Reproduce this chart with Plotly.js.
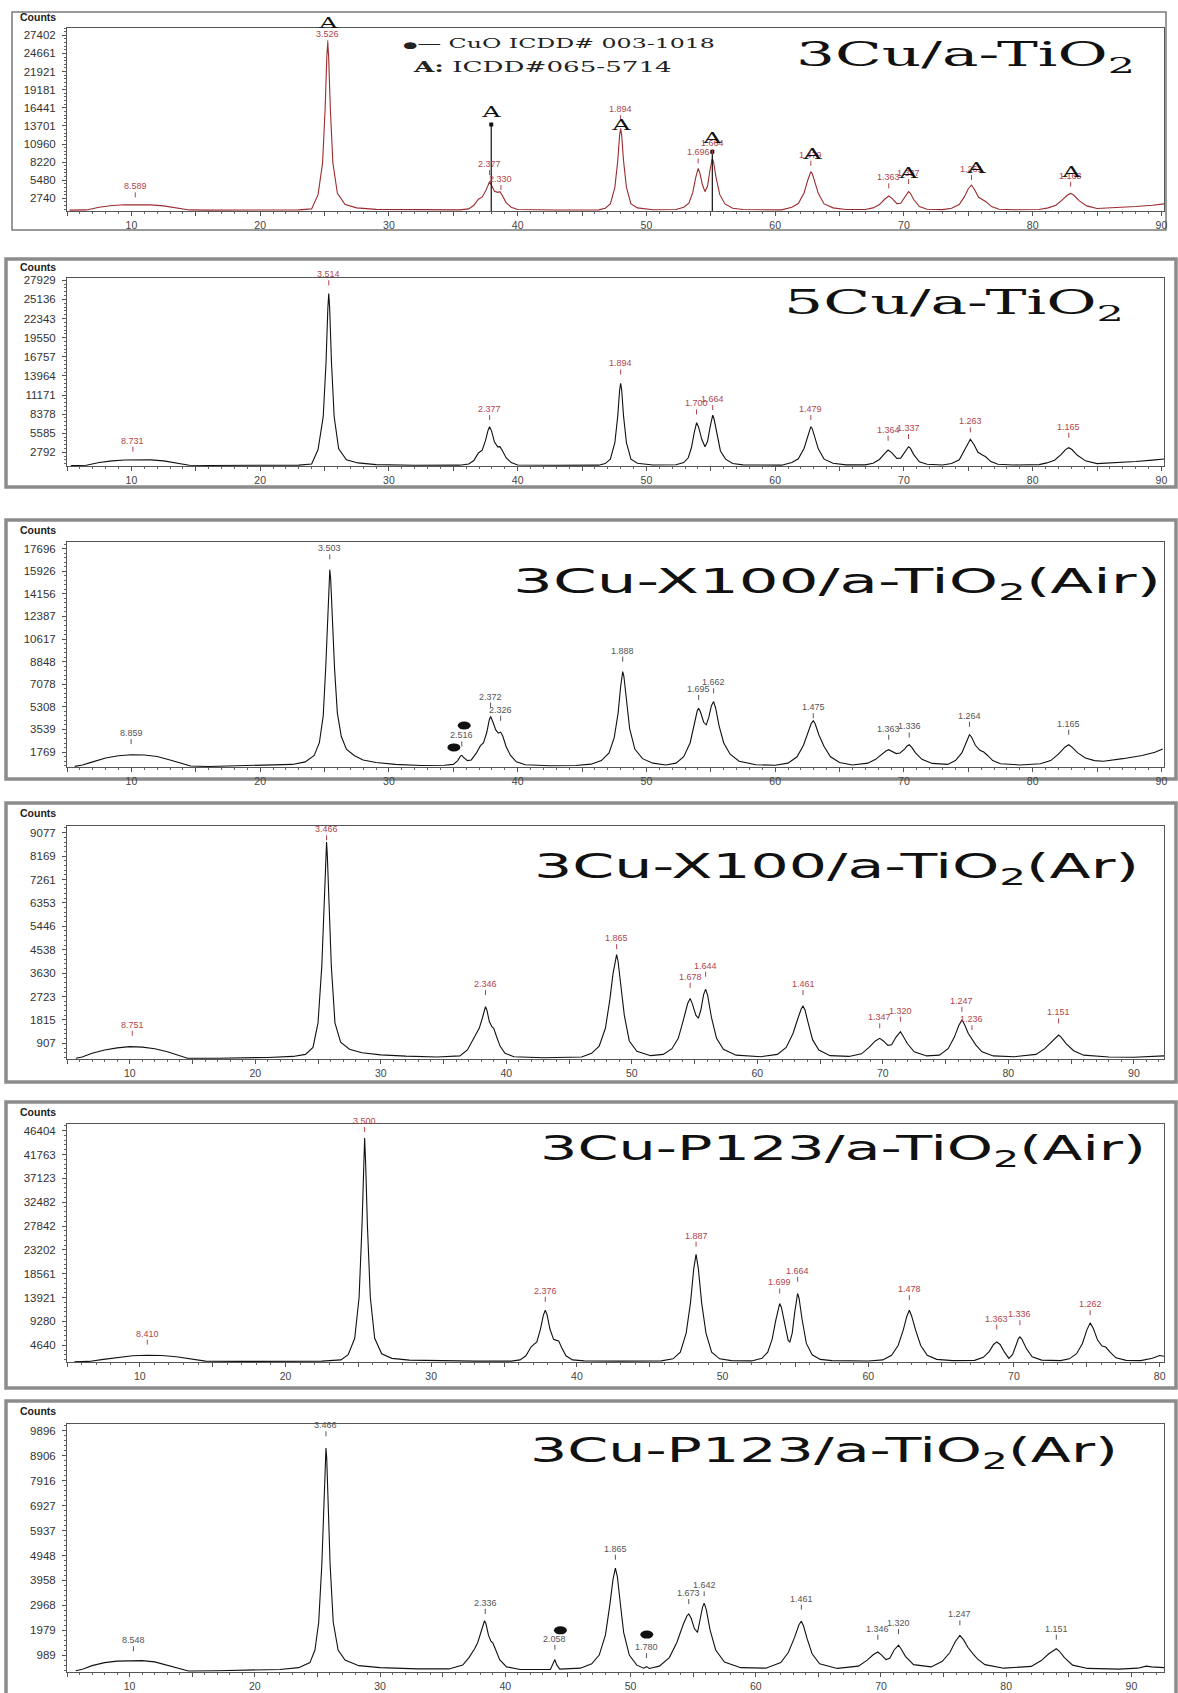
<!DOCTYPE html>
<html><head><meta charset="utf-8">
<script src="https://cdn.plot.ly/plotly-3.0.1.min.js"></script>
<style>html,body{margin:0;padding:0;background:#fff}</style>
</head><body><div id="chart" style="width:1178px;height:1693px"></div>
<script>
// ===== DATA (2theta, counts) =====
const p1Pts = [[5.2,960],[6.5,990],[7.5,1400],[8.5,1650],[9.5,1780],[10.3,1800],[11.5,1760],[12.5,1600],[13.5,1300],[14.5,990],[16,960],[20,960],[23,1000],[24,1150],
[24.5,3300],[24.85,8100],[25.05,16400],[25.18,24200],[25.25,26300],[25.32,24200],[25.45,16400],[25.65,8100],[26.0,3500],[26.6,1800],[27.5,1300],[29,1080],[32,990],[35.5,1000],
[36.2,1150],[36.6,1700],[36.95,2600],[37.25,2950],[37.5,3800],[37.7,4900],[37.82,5260],[37.98,4700],[38.2,3800],[38.45,3650],[38.62,3750],[38.8,3200],[39.1,2100],[39.5,1400],[40.0,1050],[43,980],[46.3,1000],
[46.8,1250],[47.2,1900],[47.55,4400],[47.78,8500],[47.92,12300],[48.0,13310],[48.08,12300],[48.22,8500],[48.45,4400],[48.8,1900],[49.3,1300],[50.5,1020],[52.3,1050],
[52.9,1400],[53.3,2000],[53.6,3600],[53.82,5800],[53.95,7000],[54.02,7270],[54.15,6600],[54.35,4800],[54.55,3750],[54.75,4600],[54.92,6800],[55.05,8400],[55.12,8780],[55.22,8200],[55.4,6000],[55.7,3300],[56.1,1900],[56.7,1250],[57.5,1050],[60.5,1000],
[61.3,1400],[61.8,1950],[62.25,3600],[62.55,5600],[62.7,6600],[62.77,6770],[62.88,6500],[63.05,5400],[63.35,3500],[63.8,1900],[64.5,1300],[65.5,1050],[67.0,1050],
[67.6,1300],[68.1,1800],[68.5,2600],[68.82,3090],[69.1,2700],[69.45,1950],[69.75,2000],[70.05,2900],[70.25,3550],[70.36,3750],[70.5,3500],[70.75,2600],[71.2,1500],[71.8,1100],[73.0,1030],
[73.7,1250],[74.3,1800],[74.7,3000],[75.0,4200],[75.25,4750],[75.5,4000],[75.8,2900],[76.15,2500],[76.4,2200],[76.8,1500],[77.4,1100],[78.5,1020],[80.5,1050],
[81.2,1300],[81.8,1700],[82.3,2500],[82.7,3250],[82.95,3490],[83.2,3200],[83.6,2400],[84.2,1600],[85.0,1200],[86.5,1300],[88,1500],[89.3,1700],[90.2,1900]];

const p2Pts = [[5.3,860],[6.5,900],[7.5,1300],[8.5,1550],[9.5,1680],[10.2,1720],[11.5,1690],[12.5,1550],[13.5,1250],[14.5,900],[16,880],[20,880],[23,920],[24,1100],
[24.5,3200],[24.9,8000],[25.12,16000],[25.26,23900],[25.33,25990],[25.4,23900],[25.54,16000],[25.75,8000],[26.1,3300],[26.7,1700],[27.6,1250],[29,1000],[32,900],[35.5,920],
[36.2,1100],[36.6,1600],[36.95,2700],[37.25,3100],[37.5,4500],[37.7,6000],[37.82,6540],[37.98,5900],[38.2,4300],[38.45,3600],[38.62,3620],[38.8,3100],[39.1,2000],[39.5,1300],[40.0,950],[43,900],[46.3,920],
[46.8,1150],[47.2,1800],[47.55,4200],[47.78,8200],[47.92,11900],[48.0,12860],[48.08,11900],[48.22,8200],[48.45,4200],[48.8,1800],[49.3,1200],[50.5,950],[52.3,980],
[52.9,1300],[53.25,2000],[53.5,3500],[53.72,5700],[53.84,6900],[53.9,7120],[54.05,6500],[54.3,4700],[54.55,3620],[54.75,4400],[54.95,6500],[55.08,7900],[55.15,8240],[55.25,7700],[55.45,5600],[55.75,3000],[56.15,1800],[56.7,1150],[57.5,960],[60.5,920],
[61.3,1300],[61.8,1850],[62.25,3400],[62.55,5400],[62.7,6350],[62.77,6540],[62.88,6250],[63.05,5200],[63.35,3300],[63.8,1800],[64.5,1200],[65.5,960],[67,960],
[67.6,1200],[68.1,1750],[68.5,2600],[68.77,3130],[69.05,2750],[69.45,1900],[69.75,1950],[70.05,2800],[70.25,3450],[70.36,3620],[70.5,3400],[70.75,2500],[71.2,1400],[71.8,1050],[73,950],
[73.7,1150],[74.3,1700],[74.65,2900],[74.95,4100],[75.16,4690],[75.45,3900],[75.75,2800],[76.1,2400],[76.35,2150],[76.75,1450],[77.3,1050],[78.5,950],[80.5,1000],
[81.1,1250],[81.7,1650],[82.2,2450],[82.55,3200],[82.8,3470],[83.05,3200],[83.45,2400],[84.1,1550],[85,1150],[86.5,1250],[88,1450],[89.3,1650],[90.2,1820]];

const p3Pts = [[5.6,650],[6.2,760],[7,1000],[8,1300],[9,1480],[10,1560],[11,1540],[12,1420],[13,1150],[14,850],[14.6,680],[16,640],[19,700],[21,720],[22.5,800],[23.5,1000],
[24.2,1500],[24.6,2500],[24.9,4600],[25.1,8500],[25.25,12800],[25.35,15400],[25.41,16050],[25.48,15300],[25.6,12500],[25.78,8300],[26.0,4800],[26.3,3000],[26.7,2000],[27.3,1500],[28,1150],[29,950],[30.5,800],[32.5,720],[34.3,740],
[35.0,800],[35.35,1100],[35.55,1450],[35.66,1510],[35.8,1350],[36.1,1100],[36.4,1150],
[36.8,1700],[37.1,2250],[37.35,2500],[37.6,3300],[37.8,4300],[37.9,4550],[38.05,4200],[38.3,3500],[38.5,3250],[38.68,3330],[38.85,3000],[39.1,2200],[39.45,1500],[39.9,1000],[40.6,780],[42.5,700],[44.5,720],[45.7,820],
[46.5,1100],[47.1,1700],[47.5,2900],[47.8,4800],[48.0,6900],[48.1,7800],[48.16,8070],[48.25,7700],[48.42,6000],[48.7,3600],[49.1,2000],[49.7,1250],[50.5,900],[51.5,760],
[52.3,900],[52.9,1400],[53.4,2500],[53.75,4100],[53.95,5000],[54.06,5200],[54.2,4900],[54.45,4100],[54.65,3900],[54.85,4500],[55.05,5400],[55.22,5720],[55.38,5200],[55.65,3800],[56.0,2500],[56.5,1600],[57.2,1050],[58.5,780],[60,730],
[61.0,900],[61.7,1400],[62.2,2300],[62.55,3300],[62.8,4000],[62.96,4220],[63.1,4000],[63.4,3100],[63.8,2200],[64.3,1400],[65.0,950],[66,750],
[67.2,900],[67.8,1200],[68.3,1600],[68.6,1850],[68.82,1950],[69.05,1850],[69.4,1650],[69.7,1700],[70.05,2000],[70.25,2250],[70.41,2340],[70.6,2150],[70.9,1700],[71.4,1200],[72.2,880],[73.4,800],
[74.0,1100],[74.5,1700],[74.8,2500],[75.0,3000],[75.09,3120],[75.25,2950],[75.55,2300],[75.9,1900],[76.2,1770],[76.5,1500],[76.9,1100],[77.5,850],[79,760],
[80.6,850],[81.4,1100],[82.0,1600],[82.5,2150],[82.8,2340],[83.05,2150],[83.5,1700],[84.1,1300],[84.8,1100],[85.5,1050],[87,1250],[88.5,1500],[89.5,1750],[90.1,2000]];

const p4Pts = [[5.7,330],[6.2,380],[7,520],[8,650],[9,730],[10,780],[11,760],[12,700],[13,580],[14,420],[14.6,330],[17,330],[19,340],[21,360],[23,400],[24,480],
[24.6,750],[25.0,1700],[25.3,3900],[25.5,6700],[25.62,8200],[25.68,8710],[25.74,8200],[25.86,6700],[26.06,3900],[26.35,1700],[26.8,950],[27.5,680],[28.5,540],[30,460],[32,410],[34.5,380],[36.3,420],
[36.9,650],[37.3,1000],[37.6,1230],[37.85,1500],[38.1,1900],[38.25,2200],[38.34,2330],[38.45,2200],[38.65,1750],[38.85,1550],[39.0,1490],[39.2,1200],[39.5,800],[39.9,520],[40.6,390],[43,350],[46,380],
[46.8,520],[47.4,800],[47.9,1500],[48.25,2600],[48.5,3600],[48.7,4200],[48.79,4350],[48.9,4100],[49.1,3300],[49.4,2000],[49.8,1000],[50.4,600],[51.5,430],
[52.5,480],[53.2,700],[53.7,1100],[54.1,1800],[54.45,2450],[54.65,2650],[54.85,2400],[55.1,2000],[55.3,1880],[55.5,2200],[55.72,2800],[55.88,3010],[56.05,2750],[56.35,1900],[56.75,1100],[57.3,680],[58.3,450],[60.3,390],
[61.6,480],[62.3,750],[62.85,1300],[63.25,1900],[63.5,2250],[63.64,2350],[63.8,2200],[64.05,1700],[64.4,1050],[64.9,650],[65.8,430],[67.3,400],
[68.3,500],[68.9,750],[69.4,1000],[69.75,1100],[70.05,1000],[70.4,830],[70.7,850],[71.05,1150],[71.25,1300],[71.4,1360],[71.6,1200],[71.95,900],[72.5,580],[73.5,420],
[74.5,450],[75.2,700],[75.7,1150],[76.05,1600],[76.3,1810],[76.5,1650],[76.8,1300],[77.1,1050],[77.4,850],[77.9,580],[78.8,420],[80.5,390],
[82.2,480],[82.9,700],[83.5,1000],[83.85,1180],[84.0,1230],[84.2,1150],[84.6,900],[85.2,620],[86.0,450],[88,380],[90,370],[92.4,420]];

const p5Pts = [[5.5,1450],[6.5,1500],[7.5,1900],[8.5,2300],[9.5,2600],[10.5,2690],[11.5,2650],[12.5,2400],[13.5,1950],[14.5,1550],[17,1500],[20,1500],[22.5,1550],[23.8,1800],
[24.3,2800],[24.75,6000],[25.05,14000],[25.25,28000],[25.36,40000],[25.43,44980],[25.5,40000],[25.62,28000],[25.82,14000],[26.12,6000],[26.6,3000],[27.3,2100],[28.5,1750],[30.5,1600],[33,1550],[35.5,1550],
[36.1,1800],[36.5,2600],[36.85,4300],[37.05,4800],[37.25,5300],[37.5,7800],[37.7,10500],[37.83,11470],[37.95,10600],[38.15,7800],[38.4,5800],[38.6,5600],[38.75,5500],[38.95,4200],[39.25,2600],[39.7,1800],[40.5,1600],[43,1550],[45.8,1600],
[46.6,2000],[47.1,3300],[47.5,7000],[47.8,13000],[48.02,19500],[48.18,22340],[48.34,19500],[48.56,13000],[48.86,7000],[49.25,3300],[49.8,2000],[50.6,1650],[52,1600],
[52.7,2100],[53.1,3300],[53.4,5800],[53.65,9500],[53.82,12000],[53.92,12770],[54.04,12000],[54.25,8800],[54.5,5600],[54.62,5300],[54.78,7000],[54.95,11000],[55.07,13800],[55.15,14720],[55.25,13800],[55.45,9800],[55.75,5000],[56.15,2800],[56.7,1900],[57.5,1650],[60,1580],
[61.0,1800],[61.6,2700],[62.05,4600],[62.4,7600],[62.65,10300],[62.82,11470],[62.98,10300],[63.25,7600],[63.6,4600],[64.05,2700],[64.7,1900],[65.8,1650],[67.3,1700],
[67.9,2300],[68.3,3400],[68.6,4800],[68.82,5290],[69.05,4800],[69.35,3300],[69.65,2100],[69.9,2800],[70.15,4700],[70.3,5900],[70.41,6270],[70.55,5800],[70.85,4000],[71.25,2400],[71.9,1750],[73.2,1650],
[73.8,2000],[74.3,3000],[74.7,5000],[75.0,7600],[75.23,9000],[75.45,7900],[75.75,5600],[76.05,4500],[76.3,4300],[76.6,3300],[77.0,2200],[77.7,1700],[78.7,1650],[79.5,2100],[80.0,2650],[80.3,2500]];

const p6Pts = [[5.7,380],[6.3,450],[7,580],[8,700],[9,760],[10,780],[11,780],[12,730],[13,600],[14,450],[14.7,370],[17,380],[20,400],[22,430],[23.5,500],[24.4,700],
[24.8,1200],[25.1,2300],[25.35,4600],[25.52,7300],[25.62,8800],[25.68,9210],[25.74,8800],[25.84,7300],[26.01,4600],[26.26,2300],[26.65,1200],[27.2,800],[28.3,580],[30,500],[33,450],[35.5,450],
[36.6,600],[37.1,900],[37.55,1250],[37.8,1500],[38.05,1900],[38.22,2250],[38.34,2360],[38.45,2250],[38.65,1800],[38.85,1550],[39.0,1480],[39.2,1250],[39.55,820],[40.1,530],[41.2,430],[43.6,430],[43.82,650],[43.96,820],[44.1,620],[44.35,440],[46,480],
[46.9,650],[47.5,1000],[48.0,1800],[48.35,3000],[48.6,4000],[48.79,4450],[48.95,4100],[49.15,3200],[49.45,1900],[49.9,1000],[50.5,600],[51.05,480],[51.28,540],[51.5,470],[52.3,560],
[53.1,900],[53.7,1500],[54.2,2200],[54.5,2550],[54.65,2630],[54.85,2450],[55.1,2050],[55.35,1900],[55.55,2400],[55.75,2900],[55.88,3060],[56.05,2800],[56.35,2000],[56.8,1200],[57.5,720],[58.8,500],[60.8,480],
[62.0,700],[62.6,1100],[63.1,1700],[63.45,2200],[63.64,2340],[63.82,2150],[64.1,1650],[64.5,1050],[65.1,650],[66.5,470],
[68.2,560],[68.9,800],[69.4,1020],[69.75,1120],[70.05,1000],[70.4,820],[70.7,870],[71.05,1200],[71.25,1330],[71.4,1390],[71.6,1250],[71.95,950],[72.6,620],[74.0,530],
[74.9,750],[75.5,1100],[75.95,1550],[76.3,1780],[76.6,1600],[76.95,1300],[77.35,1050],[77.7,850],[78.3,620],[79.8,480],
[82.0,550],[82.8,780],[83.4,1050],[83.8,1200],[84.0,1250],[84.25,1150],[84.65,900],[85.3,600],[86.5,470],[89,440],[90.5,480],[91.2,560],[91.6,530],[92.6,500]];

// y tick labels (counts)
const p1Ticks = [2740,5480,8220,10960,13701,16441,19181,21921,24661,27402];
const p2Ticks = [2792,5585,8378,11171,13964,16757,19550,22343,25136,27929];
const p3Ticks = [1769,3539,5308,7078,8848,10617,12387,14156,15926,17696];
const p4Ticks = [907,1815,2723,3630,4538,5446,6353,7261,8169,9077];
const p5Ticks = [4640,9280,13921,18561,23202,27842,32482,37123,41763,46404];
const p6Ticks = [989,1979,2968,3958,4948,5937,6927,7916,8906,9896];

// d-spacing peak labels: text, 2theta, counts at the label tick
const p1LabText = ['8.589','3.526','2.377','2.330','1.894','1.696','1.664','1.479','1.363','1.337','1.261','1.163'];
const p1LabX = [10.3,25.25,37.82,38.7,48.0,54.02,55.12,62.77,68.82,70.36,75.25,82.95];
const p1LabY = [2890,25900,6260,4000,14570,8020,9430,7670,4250,4900,5510,4500];
const p2LabText = ['8.731','3.514','2.377','1.894','1.700','1.664','1.479','1.364','1.337','1.263','1.165'];
const p2LabX = [10.12,25.33,37.82,48.0,53.89,55.15,62.77,68.77,70.36,75.16,82.8];
const p2LabY = [2890,27200,7510,14170,8340,8970,7510,4490,4740,5710,4930];
const p3LabText = ['8.859','3.503','2.516','2.372','2.326','1.888','1.695','1.662','1.475','1.363','1.336','1.264','1.165'];
const p3LabX = [9.98,25.41,35.66,37.9,38.68,48.16,54.06,55.22,62.96,68.82,70.41,75.09,82.8];
const p3LabY = [2390,16860,2210,5255,4215,8850,5850,6370,4420,2730,2910,3750,3120];
const p4LabText = ['8.751','3.466','2.346','1.865','1.678','1.644','1.461','1.347','1.320','1.247','1.236','1.151'];
const p4LabX = [10.2,25.68,38.34,48.79,54.65,55.88,63.64,69.75,71.4,76.3,77.1,84.0];
const p4LabY = [1200,8780,2780,4560,3060,3490,2780,1490,1745,2130,1420,1680];
const p5LabText = ['8.410','3.500','2.376','1.887','1.699','1.664','1.478','1.363','1.336','1.262'];
const p5LabX = [10.51,25.43,37.83,48.18,53.92,55.15,62.82,68.82,70.41,75.23];
const p5LabY = [4770,46150,13100,23830,14720,17000,13420,7700,8540,10500];
const p6LabText = ['8.548','3.466','2.336','2.058','1.865','1.780','1.673','1.642','1.461','1.346','1.320','1.247','1.151'];
const p6LabX = [10.3,25.68,38.4,43.96,48.79,51.28,54.65,55.88,63.64,69.75,71.4,76.3,84.0];
const p6LabY = [1150,9670,2630,1210,4780,880,3020,3330,2800,1610,1830,2180,1610];

// anatase "A" markers (panel 1)
const anataseX = [25.25,37.95,48.0,55.12,62.85,70.3,75.6,82.95];
const anataseY = [28300,15825,13810,11900,9430,6510,7270,6770];
// reference sticks (panel 1)
const stickX = [37.95,55.12];
const stickTop = [13910,9790];
// CuO markers
const cuo3X = [35.05,35.85], cuo3Y = [2130,3850];
const cuo6X = [44.4,51.3], cuo6Y = [1980,1810];

const titles = ['3Cu/a-TiO<sub>2</sub>','5Cu/a-TiO<sub>2</sub>','3Cu-X100/a-TiO<sub>2</sub>(Air)','3Cu-X100/a-TiO<sub>2</sub>(Ar)','3Cu-P123/a-TiO<sub>2</sub>(Air)','3Cu-P123/a-TiO<sub>2</sub>(Ar)'];

// ===== LAYOUT / STYLE =====
const W=1178, H=1693, plotL=67, plotR=1164;
const px = v => v/W, py = v => 1 - v/H;
const panels = [
 {pts:p1Pts, ticks:p1Ticks, lt:p1LabText, lx:p1LabX, ly:p1LabY, color:'#9b2b2e', lc:'#b0454b', xr:[5,90.2], yr:[827,28509], top:28, bot:211, xmax:90, frame:[12,12,1166,230], fw:1.5, fc:'#7a7a7a', countsY:17, tfont:'DejaVu Serif', tL:794, tW:339, tY:56},
 {pts:p2Pts, ticks:p2Ticks, lt:p2LabText, lx:p2LabX, ly:p2LabY, color:'#111', lc:'#b0454b', xr:[5,90.2], yr:[798,28269], top:278, bot:466, xmax:90, frame:[6,259,1176,487], fw:3.5, fc:'#8c8c8c', countsY:267, tfont:'DejaVu Serif', tL:782, tW:340, tY:305},
 {pts:p3Pts, ticks:p3Ticks, lt:p3LabText, lx:p3LabX, ly:p3LabY, color:'#111', lc:'#555', xr:[5,90.2], yr:[598,18216], top:542, bot:767, xmax:90, frame:[6,520,1176,779], fw:3.5, fc:'#8c8c8c', countsY:530, tfont:'DejaVu Sans', tL:511, tW:648, tY:583},
 {pts:p4Pts, ticks:p4Ticks, lt:p4LabText, lx:p4LabX, ly:p4LabY, color:'#111', lc:'#b0454b', xr:[5,92.4], yr:[300,9335], top:826, bot:1059, xmax:90, frame:[6,803,1176,1082], fw:3.5, fc:'#8c8c8c', countsY:813, tfont:'DejaVu Sans', tL:532, tW:605, tY:868},
 {pts:p5Pts, ticks:p5Ticks, lt:p5LabText, lx:p5LabX, ly:p5LabY, color:'#111', lc:'#b0454b', xr:[5,80.3], yr:[1387,47705], top:1124, bot:1362, xmax:80, frame:[6,1102,1176,1388], fw:3.5, fc:'#8c8c8c', countsY:1112, tfont:'DejaVu Sans', tL:538, tW:606, tY:1150},
 {pts:p6Pts, ticks:p6Ticks, lt:p6LabText, lx:p6LabX, ly:p6LabY, color:'#111', lc:'#555', xr:[5,92.6], yr:[328,10160], top:1424, bot:1672, xmax:90, frame:[6,1401,1176,1705], fw:3.5, fc:'#8c8c8c', countsY:1411, tfont:'DejaVu Sans', tL:528, tW:588, tY:1452}
];

const traces = [], annotations = [], shapes = [], stretch = [];
const layout = {width:W, height:H, margin:{l:0,r:0,t:0,b:0}, paper_bgcolor:'#fff', plot_bgcolor:'#fff', showlegend:false, font:{family:'Liberation Sans, Arial, sans-serif'}};

panels.forEach((p,i)=>{
  const s = i===0 ? '' : String(i+1);
  const xa = 'x'+s, ya = 'y'+s;
  traces.push({x:p.pts.map(d=>d[0]), y:p.pts.map(d=>d[1]), xaxis:xa, yaxis:ya, type:'scatter', mode:'lines', line:{color:p.color, width:1.1}, hoverinfo:'skip'});
  const xt = []; for(let v=5; v<=p.xmax; v+=5) xt.push(v);
  layout['xaxis'+s] = {domain:[px(plotL), px(plotR)], range:p.xr, anchor:ya, showline:true, mirror:true, linecolor:'#555', linewidth:1,
    ticks:'outside', ticklen:4, tickcolor:'#555', tickmode:'array', tickvals:xt, ticktext:xt.map(v=>v%10===0?String(v):''),
    tickfont:{size:10.5, color:'#444', family:'Liberation Sans, Arial, sans-serif'},
    minor:{ticks:'outside', ticklen:2, dtick:1, tick0:0, tickcolor:'#666'}, showgrid:false, zeroline:false, fixedrange:true};
  const step = p.ticks[9]/10;
  layout['yaxis'+s] = {domain:[py(p.bot), py(p.top)], range:p.yr, anchor:xa, showline:true, mirror:true, linecolor:'#555', linewidth:1,
    ticks:'outside', ticklen:4, tickcolor:'#555', tickmode:'array', tickvals:p.ticks, ticktext:p.ticks.map(String), ticklabelstandoff:4,
    tickfont:{size:11.5, color:'#333', family:'Liberation Sans, Arial, sans-serif'},
    minor:{ticks:'outside', ticklen:2, dtick:step/5, tick0:0, tickcolor:'#666'}, showgrid:false, zeroline:false, fixedrange:true};
  // outer frame
  shapes.push({type:'rect', xref:'paper', yref:'paper', x0:px(p.frame[0]), x1:px(p.frame[2]), y0:py(p.frame[3]), y1:py(p.frame[1]), line:{color:p.fc, width:p.fw}, fillcolor:'rgba(0,0,0,0)', layer:'below'});
  // Counts
  annotations.push({xref:'paper', yref:'paper', x:px(18), y:py(p.countsY), xanchor:'left', yanchor:'middle', showarrow:false, text:'<b>Counts</b>', font:{size:10.5, color:'#222', family:'Liberation Sans, Arial, sans-serif'}});
  // title
  stretch.push({i:annotations.length, w:p.tW, anchor:'left'});
  annotations.push({xref:'paper', yref:'paper', x:px(p.tL), y:py(p.tY), xanchor:'left', yanchor:'middle', showarrow:false, text:titles[i], font:{size:33, color:'#111', family:p.tfont}});
  // peak labels
  p.lt.forEach((t,k)=>{
    annotations.push({xref:xa, yref:ya, x:p.lx[k], y:p.ly[k], text:t, showarrow:true, arrowhead:0, arrowwidth:1, arrowcolor:p.lc, ax:0, ay:-5, standoff:0, yanchor:'bottom', borderpad:0,
      font:{size:9, color:p.lc, family:'Liberation Sans, Arial, sans-serif'}});
  });
});

// panel 1: anatase "A" markers
anataseX.forEach((x,k)=>{
  stretch.push({i:annotations.length, k:1.75, anchor:'center'});
  annotations.push({xref:'x', yref:'y', x:x, y:anataseY[k], yshift:(k===0?6:0), text:'A', showarrow:false, xanchor:'center', yanchor:'middle', font:{size:14.5, color:'#111', family:'DejaVu Serif'}});
});
// panel 1 legend
stretch.push({i:annotations.length, w:312, anchor:'left'});
annotations.push({xref:'paper', yref:'paper', x:px(401), y:py(44), xanchor:'left', yanchor:'middle', showarrow:false, text:'<span style="font-size:9px">●</span>\u2014 CuO ICDD# 003-1018', font:{size:13, color:'#222', family:'DejaVu Serif'}});
stretch.push({i:annotations.length, w:260, anchor:'left'});
annotations.push({xref:'paper', yref:'paper', x:px(410), y:py(67), xanchor:'left', yanchor:'middle', showarrow:false, text:'<b>A:</b> ICDD#065-5714', font:{size:14, color:'#222', family:'DejaVu Serif'}});

// sticks in panel 1
const sx=[], sy=[];
stickX.forEach((x,k)=>{ sx.push(x,x,null); sy.push(panels[0].yr[0], stickTop[k], null); });
traces.push({x:sx, y:sy, xaxis:'x', yaxis:'y', type:'scatter', mode:'lines', line:{color:'#111', width:1.2}, hoverinfo:'skip'});
traces.push({x:stickX, y:stickTop, xaxis:'x', yaxis:'y', type:'scatter', mode:'markers', marker:{symbol:'square', size:4, color:'#111'}, hoverinfo:'skip'});

// CuO ellipses
function cuo(xs, ys, xr, yr){
  xs.forEach((x,k)=>shapes.push({type:'circle', xref:xr, yref:yr, xsizemode:'pixel', ysizemode:'pixel', xanchor:x, yanchor:ys[k], x0:-6.5, x1:6.5, y0:-4, y1:4, fillcolor:'#111', line:{width:0}}));
}
cuo(cuo3X, cuo3Y, 'x3', 'y3');
cuo(cuo6X, cuo6Y, 'x6', 'y6');

layout.annotations = annotations;
layout.shapes = shapes;

const gd = document.getElementById('chart');
Plotly.newPlot(gd, traces, layout, {staticPlot:true, displayModeBar:false}).then(()=>{
  stretch.forEach(s=>{
    const t = gd.querySelector('.annotation[data-index="'+s.i+'"] text.annotation-text');
    if(!t) return;
    const bb = t.getBBox();
    if(!bb.width) return;
    const k = s.w ? s.w/bb.width : s.k;
    const cx = s.anchor==='left' ? bb.x : bb.x + bb.width/2;
    t.setAttribute('transform', 'translate('+cx+',0) scale('+k+',1) translate('+(-cx)+',0)');
  });
});
</script>
</body></html>
